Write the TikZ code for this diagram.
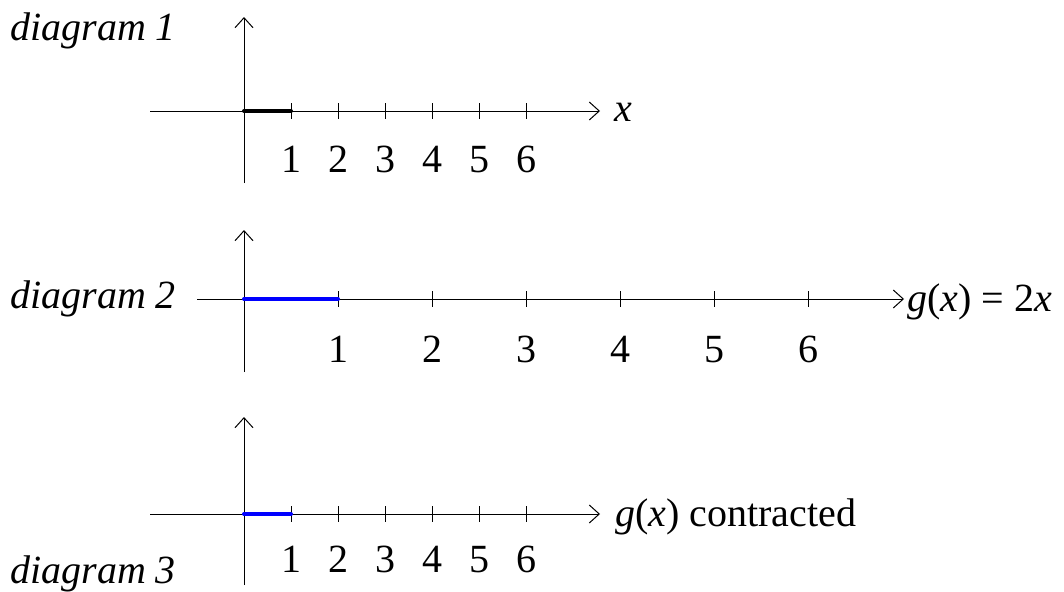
\documentclass[tikz,border=0pt]{standalone}
\usepackage{fontspec}
\setmainfont{Liberation Serif}
\usetikzlibrary{arrows.meta,calc}

\begin{document}
\begin{tikzpicture}[x=0.5pt,y=0.5pt,>={Straight Barb[length=5pt,width=9pt]},line join=round,
    font=\fontsize{20}{24}\selectfont]
  \tikzset{axis/.style={->,line width=0.5pt},
    tick/.style={line width=0.5pt},
    seg/.style={line width=2pt,line cap=round},
    lbl/.style={anchor=base,inner sep=0pt},
    title/.style={anchor=base west,inner sep=0pt,font=\fontsize{20}{24}\selectfont\itshape}}
  \useasboundingbox (0,0) rectangle (1064,591);
  % diagram 1
  \coordinate (O1) at (244,480);
  \coordinate (y1a) at (244,408);
  \coordinate (y1b) at (244,574);
  \coordinate (x1a) at (150,480);
  \coordinate (x1b) at (600,480);
  \node[title] (d1) at (10,551) {diagram 1};
  \draw[axis] (y1a) -- (y1b);
  \draw[axis] (x1a) -- (x1b);
  \foreach \k in {1,...,6} {
    \draw[tick] ($(O1)+(47*\k,8)$) -- ($(O1)+(47*\k,-8)$);
    \node[lbl] (t1\k) at (244+47*\k,419) {\k};
  }
  \draw[seg,black] (O1) -- ++(47,0) coordinate (e1);
  \node[anchor=base west,inner sep=0pt] (xl1) at (614,470) {\textit{x}};
  % diagram 2
  \coordinate (O2) at (244,292);
  \coordinate (y2a) at (244,219);
  \coordinate (y2b) at (244,361);
  \coordinate (x2a) at (197,292);
  \coordinate (x2b) at (904,292);
  \node[title] (d2) at (10,283) {diagram 2};
  \draw[axis] (y2a) -- (y2b);
  \draw[axis] (x2a) -- (x2b);
  \foreach \k in {1,...,6} {
    \draw[tick] ($(O2)+(94*\k,8)$) -- ($(O2)+(94*\k,-8)$);
    \node[lbl] (t2\k) at (244+94*\k,229) {\k};
  }
  \draw[seg,blue] (O2) -- ++(94,0) coordinate (e2);
  \node[anchor=base west,inner sep=0pt] (xl2) at (907,280) {\textit{g}(\textit{x}) = 2\textit{x}};
  % diagram 3
  \coordinate (O3) at (244,77);
  \coordinate (y3a) at (244,6);
  \coordinate (y3b) at (244,174);
  \coordinate (x3a) at (150,77);
  \coordinate (x3b) at (600,77);
  \node[title] (d3) at (10,8) {diagram 3};
  \draw[axis] (y3a) -- (y3b);
  \draw[axis] (x3a) -- (x3b);
  \foreach \k in {1,...,6} {
    \draw[tick] ($(O3)+(47*\k,8)$) -- ($(O3)+(47*\k,-8)$);
    \node[lbl] (t3\k) at (244+47*\k,19) {\k};
  }
  \draw[seg,blue] (O3) -- ++(47,0) coordinate (e3);
  \node[anchor=base west,inner sep=0pt] (xl3) at (615,65) {\textit{g}(\textit{x}) contracted};
\end{tikzpicture}
\end{document}
